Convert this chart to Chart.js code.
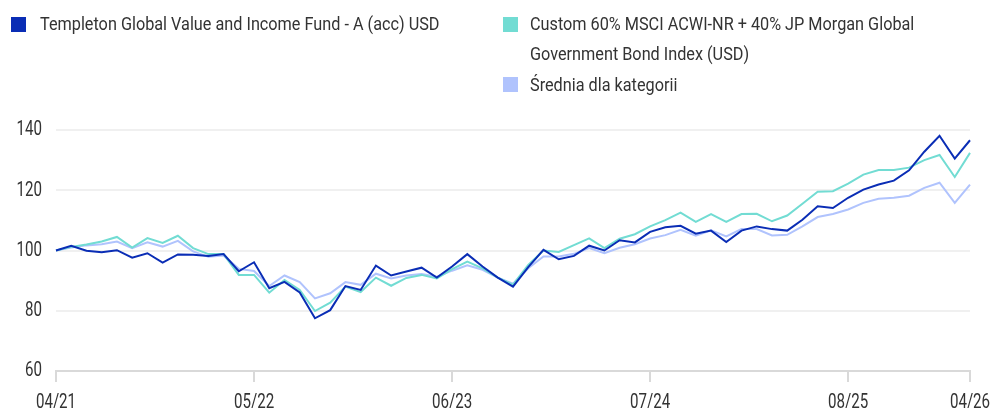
<!DOCTYPE html>
<html>
<head>
<meta charset="utf-8">
<script src="https://cdn.jsdelivr.net/npm/chart.js@4/dist/chart.umd.min.js"></script>
<style>
  html, body { margin: 0; padding: 0; background: #fff; }
  body { width: 991px; height: 408px; position: relative; overflow: hidden;
         font-family: Roboto, sans-serif; color: #333; }
  #wrap { position: absolute; left: 0; top: 0; width: 991px; height: 408px; }
  .lg { position: absolute; font-size: 19px; line-height: 30px; }
  .lg .box { position: absolute; width: 15px; height: 15px; }
  .lg .txt { position: absolute; white-space: nowrap; transform-origin: 0 0; }
</style>
</head>
<body>
<div id="wrap"><canvas id="c" width="991" height="408"></canvas></div>
<div id="legend"></div>
<script>
const categories = [
  '04/21','05/21','06/21','07/21','08/21','09/21','10/21','11/21','12/21',
  '01/22','02/22','03/22','04/22','05/22','06/22','07/22','08/22','09/22','10/22','11/22','12/22',
  '01/23','02/23','03/23','04/23','05/23','06/23','07/23','08/23','09/23','10/23','11/23','12/23',
  '01/24','02/24','03/24','04/24','05/24','06/24','07/24','08/24','09/24','10/24','11/24','12/24',
  '01/25','02/25','03/25','04/25','05/25','06/25','07/25','08/25','09/25','10/25','11/25','12/25',
  '01/26','02/26','03/26','04/26'
];
const tickLabels = ['04/21','05/22','06/23','07/24','08/25','04/26'];
const yTicks = [60, 80, 100, 120, 140];

const seriesNames = [
  'Templeton Global Value and Income Fund - A (acc) USD',
  'Custom 60% MSCI ACWI-NR + 40% JP Morgan Global Government Bond Index (USD)',
  'Średnia dla kategorii'
];
const fund = [100,101.6,99.9,99.4,100.1,97.6,99.1,96.0,98.7,98.6,98.2,98.8,93.1,96.1,87.5,89.6,86.1,77.5,80.2,88.2,86.9,95.0,91.7,93.0,94.3,91.0,94.7,98.8,94.7,91.0,88.0,94.5,100.2,97.1,98.2,101.6,100.0,103.4,102.7,106.2,107.7,108.2,105.6,106.6,102.8,106.6,108.0,107.1,106.6,110.2,114.7,114.1,117.5,120.2,121.9,123.2,126.6,132.8,138.1,130.5,136.6];
const benchmark = [100,101.2,102,103,104.5,101,104.1,102.5,104.9,100.8,98.8,98.8,91.9,91.9,86,90.2,86.9,79.9,82.7,88,86.2,91,88.3,90.9,91.9,90.7,93.8,96.3,94.1,91,88.7,95.2,100,99.5,101.8,104,100.8,103.9,105.4,108,110.1,112.6,109.5,112.1,109.5,112.1,112.2,109.7,111.6,115.5,119.5,119.7,122.2,125.2,126.7,126.7,127.5,130,131.7,124.4,132.4];
const category = [100,101,101.7,102.1,103,100.8,102.7,101.3,103.2,99.7,97.9,98.3,93.9,93.2,88.2,91.7,89.5,84.1,85.8,89.5,88.6,92.3,90.7,91.7,92.2,91.3,93.3,95.1,93.6,91,89,94.1,98,98,98.9,100.8,99.1,100.9,102.1,104,105.1,106.9,104.9,106.7,104.7,107.1,107.1,105,105.2,108,111.1,112.1,113.6,115.8,117.2,117.5,118.2,120.8,122.5,115.8,121.9];
const colors = ['#0a2db5', '#72dcd3', '#b0c3fd'];

// HTML legend (real text), horizontally condensed to mimic the narrow face
const condense = 0.855;
const legendPos = [
  {box:[11,17], txt:[40,9], w:null},
  {box:[503,17], txt:[530,9], w:400},
  {box:[503,77], txt:[530,70], w:null}
];
const lg = document.getElementById('legend');
seriesNames.forEach((name, i) => {
  const d = document.createElement('div'); d.className = 'lg';
  const b = document.createElement('div'); b.className = 'box';
  b.style.left = legendPos[i].box[0] + 'px'; b.style.top = legendPos[i].box[1] + 'px';
  b.style.background = colors[i];
  const t = document.createElement('div'); t.className = 'txt';
  t.style.left = legendPos[i].txt[0] + 'px'; t.style.top = legendPos[i].txt[1] + 'px';
  t.style.transform = 'scaleX(' + condense + ')';
  if (legendPos[i].w) { t.style.whiteSpace = 'normal'; t.style.width = (legendPos[i].w / condense) + 'px'; }
  t.textContent = name;
  d.appendChild(b); d.appendChild(t); lg.appendChild(d);
});

// draw axis labels horizontally condensed (narrow type look)
const narrowText = {
  id: 'narrowText',
  beforeDraw(chart) {
    const ctx = chart.ctx;
    if (ctx._origFill) return;
    ctx._origFill = ctx.fillText;
    ctx.fillText = function (text, x, y, mw) {
      const w = this.measureText(text).width * 0.72;
      return ctx._origFill.call(this, text, x, y, mw !== undefined ? Math.min(mw, w) : w);
    };
  },
  afterDraw(chart) {
    const ctx = chart.ctx;
    if (ctx._origFill) { ctx.fillText = ctx._origFill; delete ctx._origFill; }
  }
};

const datasets = [fund, benchmark, category].map((arr, i) => ({
  label: seriesNames[i], data: arr, borderColor: colors[i], backgroundColor: colors[i],
  borderWidth: 2, pointRadius: 0, tension: 0, fill: false
}));

const tickFont = { family: 'Roboto, sans-serif', size: 21 };

new Chart(document.getElementById('c'), {
  type: 'line',
  data: { labels: categories, datasets },
  plugins: [narrowText],
  options: {
    responsive: false, animation: false,
    layout: { padding: { top: 130, right: 21, left: 0, bottom: 0 } },
    plugins: { legend: { display: false }, tooltip: { enabled: false } },
    scales: {
      x: {
        type: 'category', offset: false,
        afterBuildTicks: s => { s.ticks = s.ticks.filter(t => tickLabels.includes(categories[t.value])); },
        afterFit: s => { s.height = 37; s.paddingLeft = 0; s.paddingRight = 0; },
        grid: { drawOnChartArea: false, drawTicks: true, tickLength: 11, color: '#d9d9d9', lineWidth: 2 },
        border: { display: true, color: '#d9d9d9', width: 2 },
        ticks: { autoSkip: false, maxRotation: 0, padding: 8, color: '#333', font: tickFont }
      },
      y: {
        min: 60, max: 140,
        afterBuildTicks: s => { s.ticks = yTicks.map(v => ({ value: v })); },
        afterFit: s => { s.width = 56; },
        grid: { drawTicks: false, color: c => c.tick && c.tick.value === 60 ? 'rgba(0,0,0,0)' : '#f0f0f0', lineWidth: 2 },
        border: { display: false },
        ticks: { padding: 14, color: '#333', font: tickFont }
      }
    }
  }
});
</script>
</body>
</html>
